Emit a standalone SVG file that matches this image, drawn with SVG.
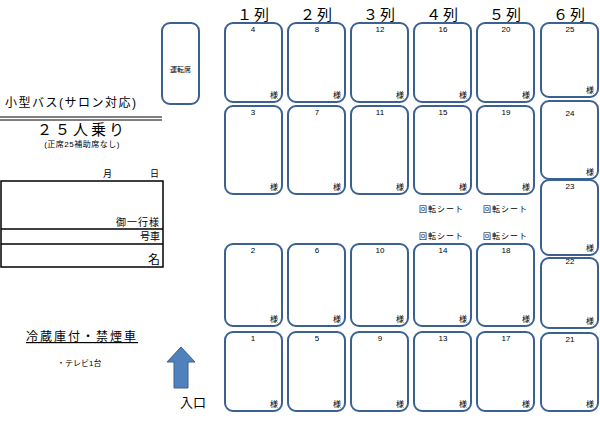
<svg xmlns="http://www.w3.org/2000/svg" width="600" height="425" viewBox="0 0 600 425">
<style>
text{font-family:"Liberation Sans","Noto Sans CJK JP",sans-serif;fill:#000}
.s{fill:#fff;stroke:#3b6193;stroke-width:2}
.n{font-size:8px;text-anchor:middle}
.m{font-size:8px;text-anchor:end}
.h{font-size:15px;text-anchor:middle;letter-spacing:2px}
.r{font-size:8px;letter-spacing:1px}
</style>
<rect width="600" height="425" fill="#fff"/>
<g id="labels">
<text class="h" x="254" y="20">１列</text><text class="h" x="317" y="20">２列</text><text class="h" x="380" y="20">３列</text><text class="h" x="443" y="20">４列</text><text class="h" x="506" y="20">５列</text><text class="h" x="570" y="20">６列</text>
</g>
<g id="driver"><rect class="s" x="162" y="23" width="37" height="81" rx="8"/><text x="180.5" y="72" style="font-size:7px;text-anchor:middle">運転席</text></g>
<g id="seats">
<g id="s4"><rect class="s" x="225" y="23" width="57" height="79" rx="8"/><text class="n" x="253" y="32">4</text><text class="m" x="278" y="98">様</text></g>
<g id="s8"><rect class="s" x="288" y="23" width="57" height="79" rx="8"/><text class="n" x="317" y="32">8</text><text class="m" x="341" y="98">様</text></g>
<g id="s12"><rect class="s" x="351" y="23" width="57" height="79" rx="8"/><text class="n" x="380" y="32">12</text><text class="m" x="404" y="98">様</text></g>
<g id="s16"><rect class="s" x="414" y="23" width="57" height="79" rx="8"/><text class="n" x="443" y="32">16</text><text class="m" x="467" y="98">様</text></g>
<g id="s20"><rect class="s" x="477" y="23" width="57" height="79" rx="8"/><text class="n" x="506" y="32">20</text><text class="m" x="530" y="98">様</text></g>
<g id="s25"><rect class="s" x="541" y="23" width="57" height="74" rx="8"/><text class="n" x="570" y="32">25</text><text class="m" x="594" y="93">様</text></g>
<g id="s3"><rect class="s" x="225" y="106" width="57" height="88" rx="8"/><text class="n" x="253" y="115">3</text><text class="m" x="278" y="190">様</text></g>
<g id="s7"><rect class="s" x="288" y="106" width="57" height="88" rx="8"/><text class="n" x="317" y="115">7</text><text class="m" x="341" y="190">様</text></g>
<g id="s11"><rect class="s" x="351" y="106" width="57" height="88" rx="8"/><text class="n" x="380" y="115">11</text><text class="m" x="404" y="190">様</text></g>
<g id="s15"><rect class="s" x="414" y="106" width="57" height="88" rx="8"/><text class="n" x="443" y="115">15</text><text class="m" x="467" y="190">様</text></g>
<g id="s19"><rect class="s" x="477" y="106" width="57" height="88" rx="8"/><text class="n" x="506" y="115">19</text><text class="m" x="530" y="190">様</text></g>
<g id="s24"><rect class="s" x="541" y="101" width="57" height="78" rx="8"/><text class="n" x="570" y="116">24</text><text class="m" x="594" y="175">様</text></g>
<g id="s23"><rect class="s" x="541" y="180" width="57" height="75" rx="8"/><text class="n" x="570" y="189">23</text><text class="m" x="594" y="251">様</text></g>
<g id="s2"><rect class="s" x="225" y="244" width="57" height="82" rx="8"/><text class="n" x="253" y="253">2</text><text class="m" x="278" y="322">様</text></g>
<g id="s6"><rect class="s" x="288" y="244" width="57" height="82" rx="8"/><text class="n" x="317" y="253">6</text><text class="m" x="341" y="322">様</text></g>
<g id="s10"><rect class="s" x="351" y="244" width="57" height="82" rx="8"/><text class="n" x="380" y="253">10</text><text class="m" x="404" y="322">様</text></g>
<g id="s14"><rect class="s" x="414" y="244" width="57" height="82" rx="8"/><text class="n" x="443" y="253">14</text><text class="m" x="467" y="322">様</text></g>
<g id="s18"><rect class="s" x="477" y="244" width="57" height="82" rx="8"/><text class="n" x="506" y="253">18</text><text class="m" x="530" y="322">様</text></g>
<g id="s22"><rect class="s" x="541" y="258" width="57" height="70" rx="8"/><text class="n" x="570" y="264">22</text><text class="m" x="594" y="324">様</text></g>
<g id="s1"><rect class="s" x="225" y="332" width="57" height="79" rx="8"/><text class="n" x="253" y="341">1</text><text class="m" x="278" y="407">様</text></g>
<g id="s5"><rect class="s" x="288" y="332" width="57" height="79" rx="8"/><text class="n" x="317" y="341">5</text><text class="m" x="341" y="407">様</text></g>
<g id="s9"><rect class="s" x="351" y="332" width="57" height="79" rx="8"/><text class="n" x="380" y="341">9</text><text class="m" x="404" y="407">様</text></g>
<g id="s13"><rect class="s" x="414" y="332" width="57" height="79" rx="8"/><text class="n" x="443" y="341">13</text><text class="m" x="467" y="407">様</text></g>
<g id="s17"><rect class="s" x="477" y="332" width="57" height="79" rx="8"/><text class="n" x="506" y="341">17</text><text class="m" x="530" y="407">様</text></g>
<g id="s21"><rect class="s" x="541" y="333" width="57" height="78" rx="8"/><text class="n" x="570" y="342">21</text><text class="m" x="594" y="407">様</text></g>
</g>
<g id="rotate">
<text class="r" x="419" y="212">回転シート</text><text class="r" x="483" y="212">回転シート</text>
<text class="r" x="419" y="239">回転シート</text><text class="r" x="483" y="239">回転シート</text>
</g>
<g id="info">
<text x="5" y="107" style="font-size:12px;letter-spacing:1.5px">小型バス(サロン対応)</text>
<line x1="0" y1="117" x2="162" y2="117" stroke="#000" stroke-width="1"/>
<line x1="0" y1="120" x2="162" y2="120" stroke="#000" stroke-width="1"/>
<text x="82" y="135" style="font-size:15px;text-anchor:middle;letter-spacing:3px">２５人乗り</text>
<text x="82" y="147" style="font-size:8px;text-anchor:middle;letter-spacing:0.5px">(正席25補助席なし)</text>
<text x="103" y="177" style="font-size:9px">月</text><text x="150" y="177" style="font-size:9px">日</text>
<rect x="1" y="181" width="162" height="86" fill="none" stroke="#000" stroke-width="1.5"/>
<line x1="1" y1="229" x2="163" y2="229" stroke="#000" stroke-width="1.5"/>
<line x1="1" y1="244" x2="163" y2="244" stroke="#000" stroke-width="1.5"/>
<text x="160" y="226" style="font-size:10px;text-anchor:end;letter-spacing:1px">御一行様</text>
<text x="160" y="240" style="font-size:10px;text-anchor:end">号車</text>
<text x="160" y="264" style="font-size:12px;text-anchor:end">名</text>
<text x="26" y="341" style="font-size:12px;text-decoration:underline;letter-spacing:2px">冷蔵庫付・禁煙車</text>
<text x="57" y="366" style="font-size:8px">・テレビ1台</text>
</g>
<g id="entrance">
<polygon points="181,347 195,362 188,362 188,388 174,388 174,362 167,362" fill="#4f81bd" stroke="#3b6193" stroke-width="1"/>
<text x="180" y="407" style="font-size:13px">入口</text>
</g>
</svg>
